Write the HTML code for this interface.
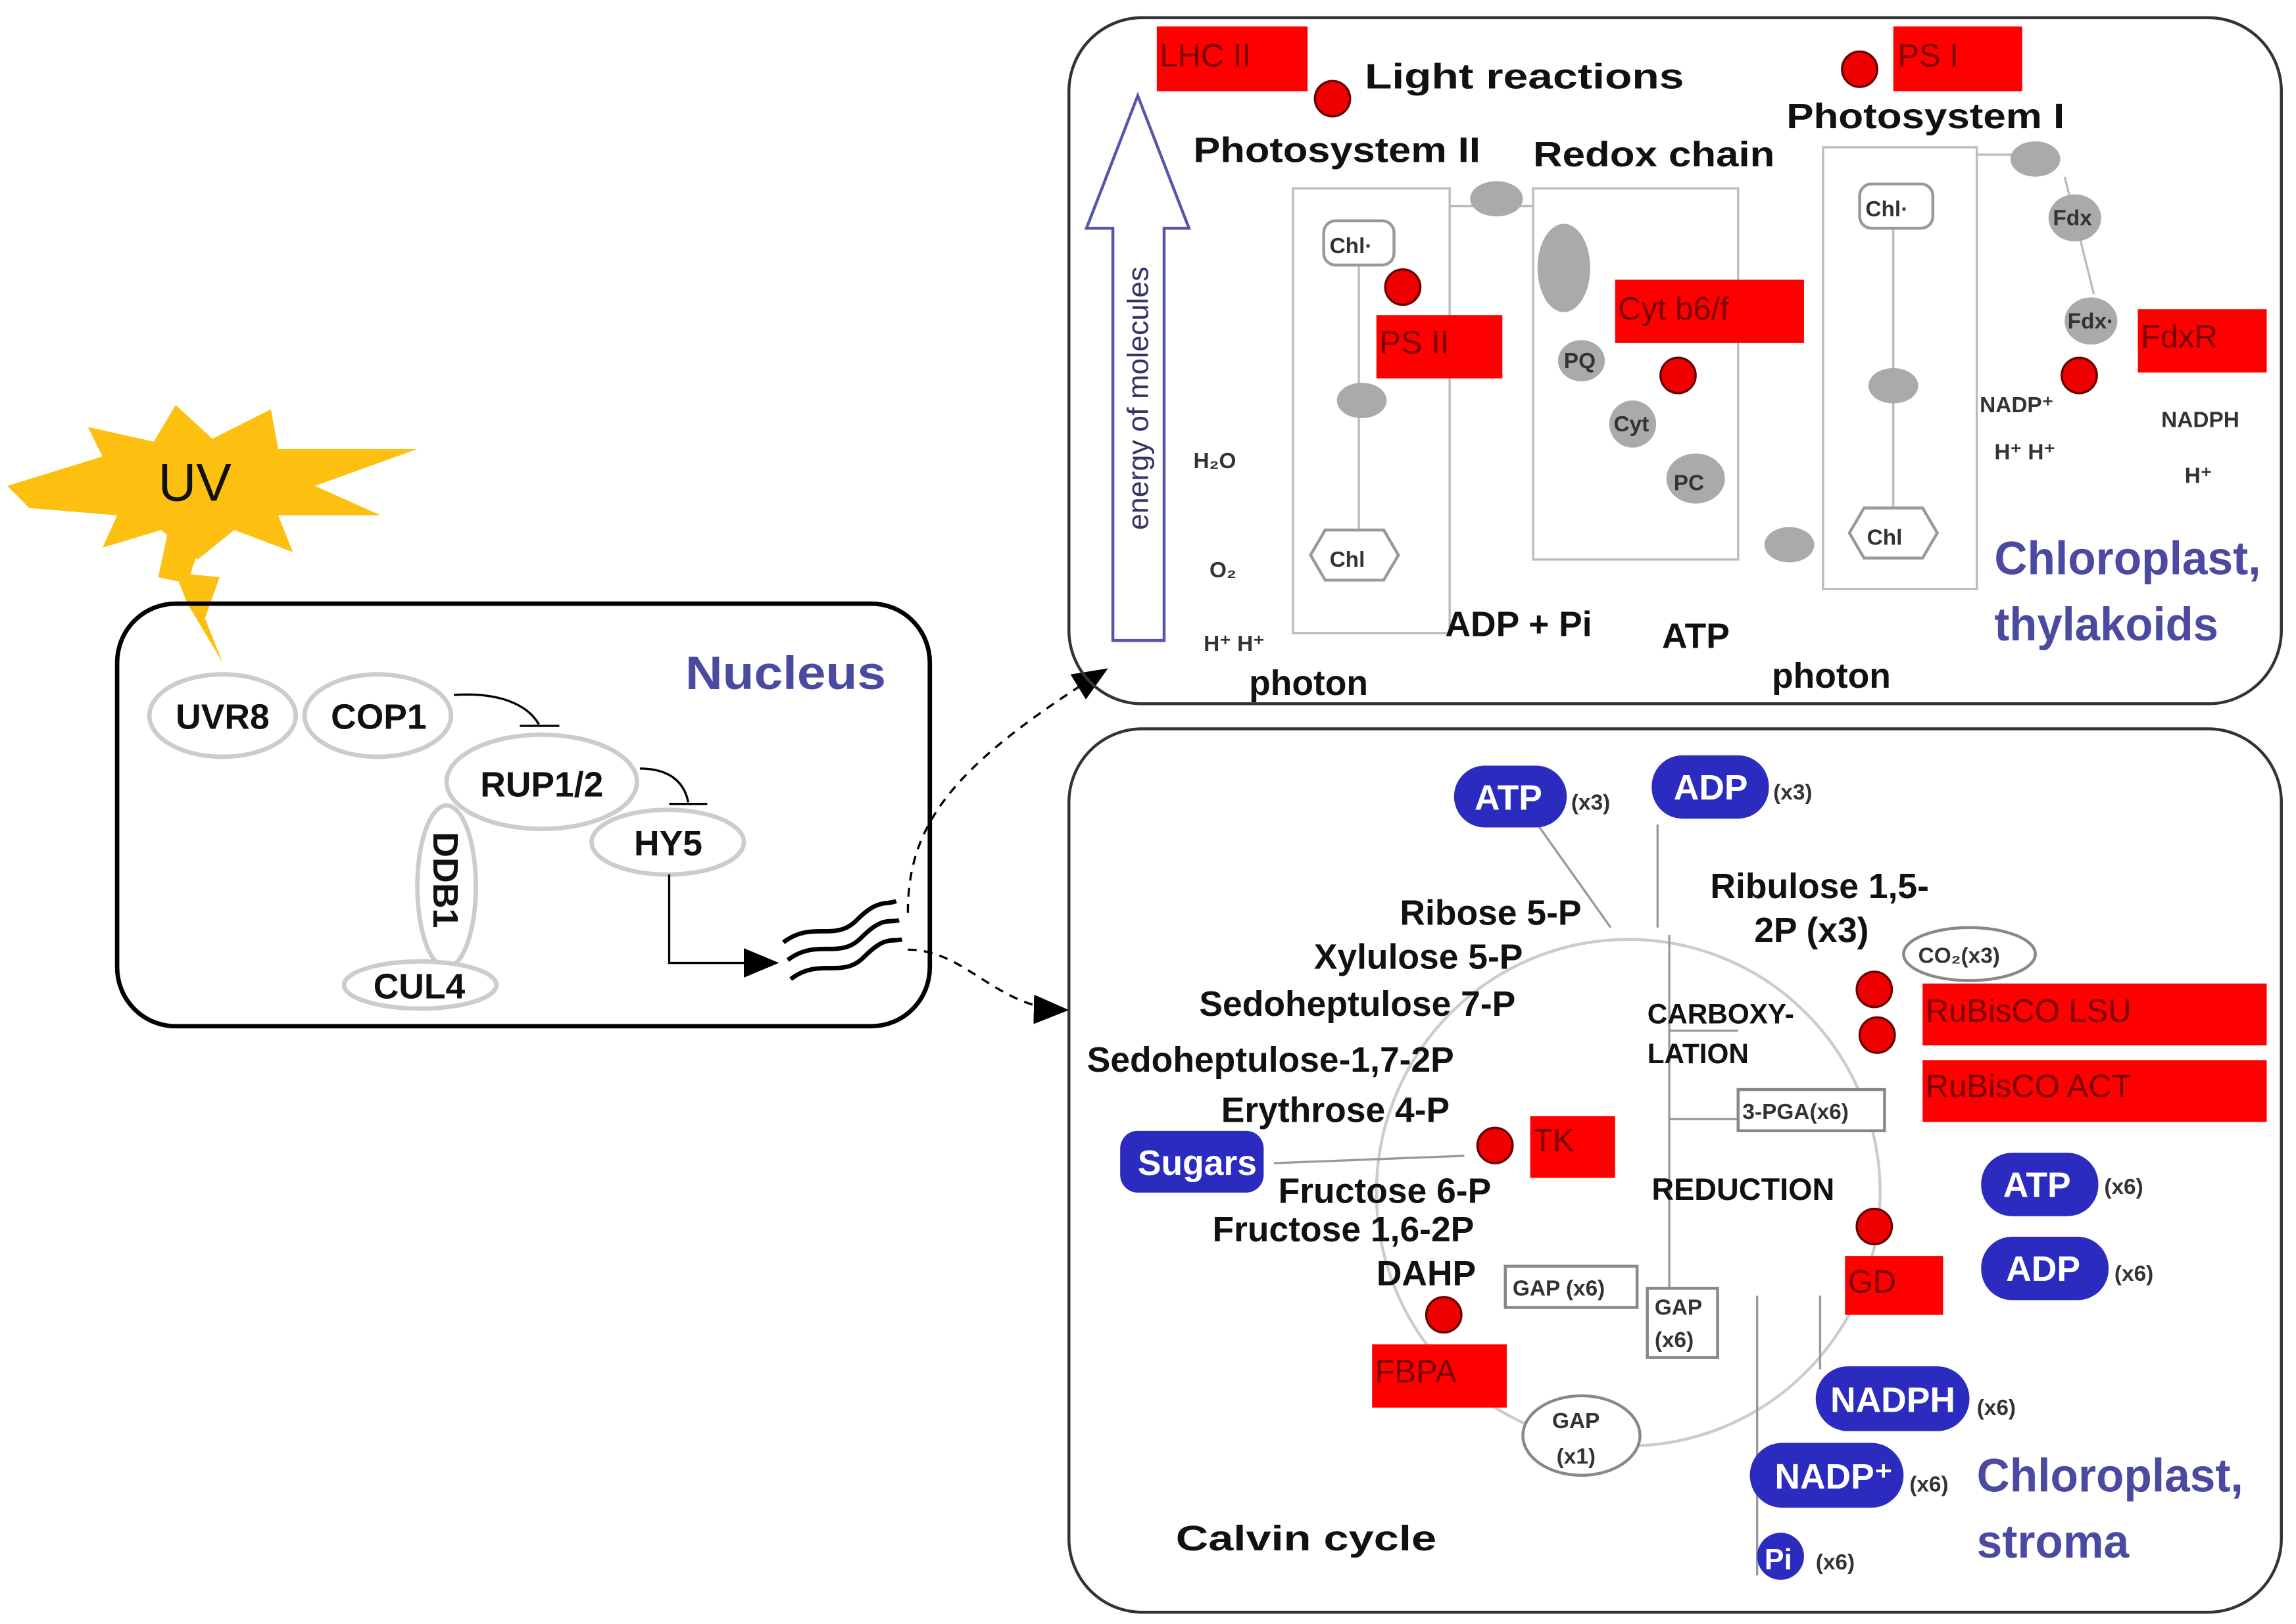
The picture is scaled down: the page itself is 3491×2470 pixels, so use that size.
<!DOCTYPE html>
<html><head><meta charset="utf-8"><style>
html,body{margin:0;padding:0;background:#fff;}
svg{display:block;}
text{font-family:"Liberation Sans",sans-serif;}
.l{font-size:24px;fill:#111;font-weight:bold;}
.r{font-size:22px;fill:#700;}
.b{fill:#4a4aa0;font-size:32px;font-weight:bold;}
.s{font-size:15px;fill:#333;font-weight:bold;}
.pill{fill:#2b2bc0;}
.pt{fill:#fff;font-size:24px;font-weight:bold;}
.g{fill:#aaa;}
</style></head><body>
<svg width="3491" height="2470" viewBox="0 0 1568 1103" preserveAspectRatio="none" xmlns="http://www.w3.org/2000/svg">
<defs><marker id="ah2" markerWidth="24" markerHeight="20" refX="22" refY="10" orient="auto" markerUnits="userSpaceOnUse"><path d="M0,0 L24,10 L0,20z" fill="#000"/></marker></defs>
<!-- UV -->
<polygon points="5,330 70,310 60,290 105,300 120,275 145,298 185,278 190,305 285,305 215,330 260,350 190,350 200,375 160,360 135,380 110,360 70,372 80,350 20,345" fill="#fdc010"/>
<polygon points="115,360 140,360 130,390 150,392 140,420 152,450 128,410 122,395 108,392" fill="#fdc010"/>
<text x="108" y="340" font-size="36" fill="#111">UV</text>
<!-- Nucleus -->
<rect x="80" y="410" width="555" height="287" rx="40" fill="none" stroke="#000" stroke-width="3"/>
<text x="468" y="468" class="b" font-size="36" textLength="137" lengthAdjust="spacingAndGlyphs">Nucleus</text>
<g fill="#fff" stroke="#ccc" stroke-width="3">
<ellipse cx="152" cy="486" rx="50" ry="28"/><ellipse cx="258" cy="486" rx="50" ry="28"/>
<ellipse cx="370" cy="531" rx="65" ry="32"/><ellipse cx="456" cy="572" rx="52" ry="22"/>
<ellipse cx="305" cy="602" rx="20" ry="55"/><ellipse cx="287" cy="669" rx="52" ry="16"/></g>
<g class="l"><text x="120" y="495">UVR8</text><text x="226" y="495">COP1</text><text x="328" y="541">RUP1/2</text><text x="433" y="581">HY5</text><text x="255" y="678">CUL4</text>
<text x="0" y="0" transform="translate(296,565) rotate(90)">DDB1</text></g>
<g fill="none" stroke="#000" stroke-width="1.5">
<path d="M310,472 C340,470 360,478 368,492"/><path d="M355,493 L382,493"/>
<path d="M437,522 C460,522 468,534 470,545"/><path d="M457,546 L483,546"/>
<path d="M457,594 L457,654 L530,654" marker-end="url(#ah2)"/>
<path d="M535,640 C555,625 570,640 585,625 S605,615 612,612 M538,652 C558,637 573,652 588,637 S607,627 614,625 M540,665 C560,650 575,665 590,650 S609,640 616,638" stroke-width="3"/>
<path d="M620,620 C620,560 650,520 755,455" stroke-dasharray="6,5" marker-end="url(#ah2)"/>
<path d="M620,645 C660,645 680,685 728,686" stroke-dasharray="6,5" marker-end="url(#ah2)"/>
</g>
<!-- Top box -->
<rect x="730" y="12" width="828" height="466" rx="50" fill="none" stroke="#333" stroke-width="2"/>
<path d="M760,435 L760,155 L742,155 L777,65 L812,155 L795,155 L795,435 Z" fill="none" stroke="#55a" stroke-width="2"/>
<text transform="translate(784,360) rotate(-90)" font-size="20" fill="#336">energy of molecules</text>
<g fill="none" stroke="#bbb" stroke-width="1.5"><rect x="883" y="128" width="107" height="302"/><rect x="1047" y="128" width="140" height="252"/><rect x="1245" y="100" width="105" height="300"/>
<path d="M928,180 L928,360 M1293,150 L1293,345 M990,140 L1047,140 M1350,105 L1390,105 M1410,120 L1430,200"/></g>
<g class="g"><ellipse cx="930" cy="272" rx="17" ry="12"/><ellipse cx="1022" cy="135" rx="18" ry="12"/><ellipse cx="1068" cy="182" rx="18" ry="30"/><ellipse cx="1080" cy="245" rx="16" ry="14"/><ellipse cx="1115" cy="288" rx="16" ry="16"/><ellipse cx="1158" cy="325" rx="20" ry="17"/><ellipse cx="1222" cy="370" rx="17" ry="12"/><ellipse cx="1293" cy="262" rx="17" ry="12"/><ellipse cx="1390" cy="108" rx="17" ry="12"/><ellipse cx="1417" cy="148" rx="18" ry="16"/><ellipse cx="1428" cy="218" rx="18" ry="16"/></g>
<g fill="#fff" stroke="#999" stroke-width="2"><rect x="904" y="150" width="48" height="30" rx="8"/><rect x="1270" y="125" width="50" height="30" rx="8"/>
<polygon points="895,377 905,360 945,360 955,377 945,394 905,394"/><polygon points="1263,362 1273,345 1313,345 1323,362 1313,379 1273,379"/></g>
<g class="s" font-size="20"><text x="908" y="172">Chl·</text><text x="1274" y="147">Chl·</text><text x="908" y="385">Chl</text><text x="1275" y="370">Chl</text><text x="1143" y="333">PC</text></g>
<g class="s" font-size="13" fill="#555"><text x="1068" y="250">PQ</text><text x="1102" y="293">Cyt</text><text x="1402" y="153">Fdx</text><text x="1412" y="223">Fdx·</text></g>
<g fill="#ff0000"><rect x="790" y="18" width="103" height="44"/><rect x="1293" y="18" width="88" height="44"/><rect x="940" y="214" width="86" height="43"/><rect x="1103" y="190" width="129" height="43"/><rect x="1460" y="210" width="88" height="43"/></g>
<g fill="#e00" stroke="#600" stroke-width="1.5"><circle cx="910" cy="67" r="12"/><circle cx="1270" cy="47" r="12"/><circle cx="958" cy="195" r="12"/><circle cx="1146" cy="255" r="12"/><circle cx="1420" cy="255" r="12"/></g>
<g class="r"><text x="792" y="45">LHC II</text><text x="1296" y="45">PS I</text><text x="942" y="240">PS II</text><text x="1105" y="217">Cyt b6/f</text><text x="1462" y="236">FdxR</text></g>
<g class="l" font-size="28"><text x="932" y="60" textLength="218" lengthAdjust="spacingAndGlyphs">Light reactions</text><text x="1220" y="87" textLength="190" lengthAdjust="spacingAndGlyphs">Photosystem I</text><text x="815" y="110" textLength="196" lengthAdjust="spacingAndGlyphs">Photosystem II</text><text x="1047" y="113" textLength="165" lengthAdjust="spacingAndGlyphs">Redox chain</text></g>
<g class="l"><text x="987" y="432">ADP + Pi</text><text x="1135" y="440">ATP</text><text x="853" y="472">photon</text><text x="1210" y="467">photon</text></g>
<g class="s"><text x="815" y="318">H₂O</text><text x="826" y="392">O₂</text><text x="822" y="442">H⁺ H⁺</text><text x="1352" y="280">NADP⁺</text><text x="1362" y="312">H⁺ H⁺</text><text x="1476" y="290">NADPH</text><text x="1492" y="328">H⁺</text></g>
<text x="1362" y="390" class="b" textLength="182" lengthAdjust="spacingAndGlyphs">Chloroplast,</text><text x="1362" y="435" class="b" textLength="153" lengthAdjust="spacingAndGlyphs">thylakoids</text>
<!-- Bottom box -->
<rect x="730" y="495" width="828" height="600" rx="50" fill="none" stroke="#333" stroke-width="2"/>
<circle cx="1112" cy="810" r="172" fill="none" stroke="#ccc" stroke-width="2"/>
<g fill="none" stroke="#999" stroke-width="1.5"><path d="M1140,635 L1140,880 M1140,700 L1187,700 M1140,760 L1187,760 M1132,630 L1132,560 M1100,630 L1050,560 M1000,785 L870,790 M1200,880 L1200,1070 M1243,880 L1243,930"/></g>
<g class="pill"><rect x="993" y="520" width="77" height="42" rx="21"/><rect x="1128" y="513" width="80" height="43" rx="21"/><rect x="765" y="768" width="98" height="42" rx="12"/><rect x="1353" y="783" width="80" height="43" rx="21"/><rect x="1353" y="840" width="87" height="43" rx="21"/><rect x="1240" y="928" width="105" height="44" rx="22"/><rect x="1195" y="980" width="105" height="44" rx="22"/><circle cx="1216" cy="1057" r="16"/></g>
<g class="pt"><text x="1007" y="550">ATP</text><text x="1143" y="543">ADP</text><text x="777" y="798">Sugars</text><text x="1368" y="813">ATP</text><text x="1370" y="870">ADP</text><text x="1250" y="959">NADPH</text><text x="1212" y="1011">NADP⁺</text><text x="1205" y="1066" font-size="20">Pi</text></g>
<g class="s" font-size="16" fill="#444"><text x="1073" y="550">(x3)</text><text x="1211" y="543">(x3)</text><text x="1437" y="811">(x6)</text><text x="1444" y="870">(x6)</text><text x="1350" y="961">(x6)</text><text x="1304" y="1013">(x6)</text><text x="1240" y="1066">(x6)</text></g>
<g class="l" font-size="22" text-anchor="end"><text x="1080" y="628">Ribose 5-P</text><text x="1040" y="658">Xylulose 5-P</text><text x="1035" y="690">Sedoheptulose 7-P</text><text x="993" y="728">Sedoheptulose-1,7-2P</text><text x="990" y="762">Erythrose 4-P</text></g>
<g class="l" font-size="22"><text x="873" y="817">Fructose 6-P</text><text x="828" y="843">Fructose 1,6-2P</text><text x="940" y="873">DAHP</text><text x="1168" y="610">Ribulose 1,5-</text><text x="1198" y="640">2P (x3)</text>
<text x="1125" y="695" font-size="19">CARBOXY-</text><text x="1125" y="722" font-size="19">LATION</text><text x="1128" y="815" font-size="21">REDUCTION</text></g>
<g fill="#fff" stroke="#888" stroke-width="2"><ellipse cx="1345" cy="648" rx="45" ry="18"/><rect x="1187" y="740" width="100" height="28"/><rect x="1028" y="860" width="90" height="28"/><rect x="1125" y="875" width="48" height="47"/><ellipse cx="1080" cy="975" rx="40" ry="27"/></g>
<g class="s" font-size="16" fill="#666"><text x="1310" y="654">CO₂(x3)</text><text x="1190" y="760">3-PGA(x6)</text><text x="1033" y="880">GAP (x6)</text><text x="1130" y="893">GAP</text><text x="1130" y="915">(x6)</text><text x="1060" y="970">GAP</text><text x="1063" y="994">(x1)</text></g>
<g fill="#ff0000"><rect x="1313" y="668" width="235" height="42"/><rect x="1313" y="720" width="235" height="42"/><rect x="1045" y="758" width="58" height="42"/><rect x="1260" y="853" width="67" height="40"/><rect x="937" y="913" width="92" height="43"/></g>
<g fill="#e00" stroke="#600" stroke-width="1.5"><circle cx="1280" cy="672" r="12"/><circle cx="1282" cy="703" r="12"/><circle cx="1021" cy="778" r="12"/><circle cx="1280" cy="833" r="12"/><circle cx="986" cy="893" r="12"/></g>
<g class="r"><text x="1315" y="694">RuBisCO LSU</text><text x="1315" y="745">RuBisCO ACT</text><text x="1047" y="782">TK</text><text x="1262" y="878">GD</text><text x="939" y="939">FBPA</text></g>
<text x="1350" y="1013" class="b" textLength="182" lengthAdjust="spacingAndGlyphs">Chloroplast,</text><text x="1350" y="1058" class="b" textLength="104" lengthAdjust="spacingAndGlyphs">stroma</text>
<text x="803" y="1053" class="l" font-size="34" textLength="178" lengthAdjust="spacingAndGlyphs">Calvin cycle</text>
</svg>
</body></html>
